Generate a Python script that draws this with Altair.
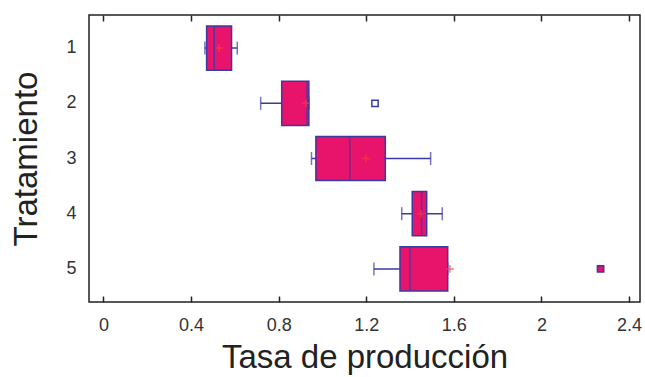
import altair as alt
import pandas as pd

# Five-number summaries per treatment
tratamiento = ["1", "2", "3", "4", "5"]
bigote_inf = [0.463, 0.718, 0.950, 1.362, 1.235]
q1 = [0.471, 0.814, 0.970, 1.410, 1.354]
mediana = [0.506, 0.930, 1.125, 1.453, 1.400]
q3 = [0.585, 0.938, 1.287, 1.476, 1.572]
bigote_sup = [0.611, 0.938, 1.494, 1.547, 1.572]
media = [0.529, 0.925, 1.199, 1.450, 1.582]

# Outlying observations
atipico_trat = ["2", "5"]
atipico_valor = [1.24, 2.27]
atipico_relleno = ["white", "#e8136b"]

cajas = pd.DataFrame({
    "trat": tratamiento, "lo": bigote_inf, "q1": q1, "med": mediana,
    "q3": q3, "hi": bigote_sup, "media": media,
})
atipicos = pd.DataFrame({"trat": atipico_trat, "valor": atipico_valor,
                         "relleno": atipico_relleno})

FONT = "Liberation Sans"
BLUE = "#3a3aa3"
PINK = "#e8136b"

xscale = alt.Scale(domain=[-0.066, 2.45], nice=False, zero=False)
yscale = alt.Scale(domain=tratamiento, paddingInner=0.2, paddingOuter=0.2)

yaxis = alt.Axis(title="Tratamiento", ticks=False, domain=False, grid=False,
                 labelFont=FONT, labelFontSize=18, labelColor="#333",
                 labelPadding=13, labelAngle=0,
                 titleFont=FONT, titleFontSize=33, titleFontWeight="normal",
                 titleColor="#222", titlePadding=22)

xvals = [0, 0.4, 0.8, 1.2, 1.6, 2, 2.4]
xaxis_bottom = alt.Axis(title="Tasa de producción", orient="bottom", values=xvals,
                        format="~g", grid=False, domain=False, offset=-6,
                        tickSize=6, tickColor="#222", tickWidth=1.5,
                        labelFont=FONT, labelFontSize=18, labelColor="#333",
                        labelPadding=14,
                        titleFont=FONT, titleFontSize=33, titleFontWeight="normal",
                        titleColor="#222", titlePadding=7)
xaxis_top = alt.Axis(title=None, orient="top", values=xvals, grid=False,
                     domain=False, offset=-6, tickSize=6, tickColor="#222",
                     tickWidth=1.5, labels=False)

Y = alt.Y("trat:O", scale=yscale, axis=yaxis)

bigotes = alt.Chart(cajas).mark_rule(color=BLUE, strokeWidth=1.5).encode(
    x=alt.X("lo:Q", scale=xscale, axis=xaxis_bottom), x2="hi:Q", y=Y)

topes = alt.Chart(cajas).transform_fold(["lo", "hi"], as_=["k", "v"]).mark_tick(
    color=BLUE, thickness=1.5, size=13, orient="vertical").encode(
    x=alt.X("v:Q", scale=xscale, axis=xaxis_top), y=Y)

caja = alt.Chart(cajas).mark_bar(color=PINK, stroke=BLUE, strokeWidth=1.5).encode(
    x=alt.X("q1:Q", scale=xscale, axis=None), x2="q3:Q", y=Y)

med = alt.Chart(cajas).mark_tick(color=BLUE, thickness=1.5, size=43,
                                 orient="vertical", opacity=0.75).encode(
    x=alt.X("med:Q", scale=xscale, axis=None), y=Y)

cruz = alt.Chart(cajas).mark_point(
    shape="M-1,0H1M0,-1V1", size=60, filled=False, color="#ff3a3a",
    strokeWidth=1.5).encode(
    x=alt.X("media:Q", scale=xscale, axis=None), y=Y)

fuera = alt.Chart(atipicos).mark_point(shape="square", size=40, stroke=BLUE,
                                       strokeWidth=1.5, opacity=1).encode(
    x=alt.X("valor:Q", scale=xscale, axis=None), y=Y,
    fill=alt.Fill("relleno:N", scale=None))

chart = alt.layer(bigotes, topes, caja, med, cruz, fuera).resolve_axis(
    x="independent").properties(
    width=551, height=287,
    autosize=alt.AutoSizeParams(type="none"),
    padding={"left": 89, "top": 15, "right": 5, "bottom": 75},
    background="white",
).configure_view(stroke="#222", strokeWidth=1.5)

chart.save("out.html", embed_options={"renderer": "svg", "actions": False})
